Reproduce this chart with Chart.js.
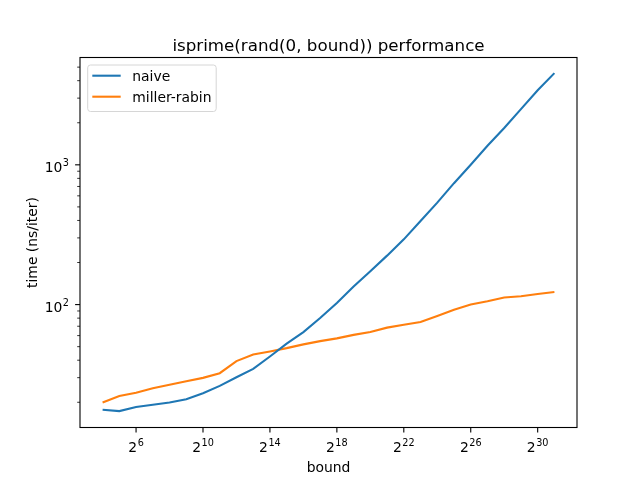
<!DOCTYPE html>
<html lang="en">
<head>
    <meta charset="UTF-8">
    <title>isprime(rand(0, bound)) performance</title>
    <style>
        html, body { margin: 0; padding: 0; background: #fff; }
        #perfChart { display: block; }
    </style>
</head>
<body>
    <canvas id="perfChart" width="640" height="480"></canvas>

    <script src="https://cdn.jsdelivr.net/npm/chart.js"></script>
    <script>
        // bound = 2^exponent
        const exponents = [4, 5, 6, 7, 8, 9, 10, 11, 12, 13, 14, 15, 16, 17,
                           18, 19, 20, 21, 22, 23, 24, 25, 26, 27, 28, 29, 30, 31];

        // time in ns/iter
        const naive = [17.7, 17.3, 18.5, 19.2, 19.9, 21.0, 23.2, 26.2, 30.2, 34.7, 42.5, 52.5, 63.6, 80.1,
                       102.7, 134.7, 173.4, 224, 293, 396, 536, 739, 1000, 1368, 1833, 2502, 3413, 4530];
        const millerRabin = [19.9, 22.2, 23.4, 25.2, 26.7, 28.3, 29.9, 32.3, 39.4, 44.0, 46.2, 48.8, 51.9, 54.8,
                             57.3, 60.7, 63.6, 68.4, 71.8, 75.0, 82.8, 92.0, 100, 105.6, 112.3, 114.7, 119.1, 123.1];

        const seriesNames = ['naive', 'miller-rabin'];
        const seriesColors = ['#1f77b4', '#ff7f0e'];

        // tick positions
        const xTickExps = [6, 10, 14, 18, 22, 26, 30];
        const yMajorTicks = [100, 1000];
        const yMinorTicks = [20, 30, 40, 50, 60, 70, 80, 90,
                             200, 300, 400, 500, 600, 700, 800, 900,
                             2000, 3000, 4000, 5000];

        const FONT = '"DejaVu Sans", sans-serif';

        // draw "base^exp" label with a raised smaller exponent
        function drawPower(ctx, base, exp, x, baseY, align) {
            ctx.font = '13.9px ' + FONT;
            const wb = ctx.measureText(base).width;
            ctx.font = '9.7px ' + FONT;
            const we = ctx.measureText(exp).width;
            const total = wb + we + 0.5;
            let left = x;
            if (align === 'center') left = x - total / 2;
            else if (align === 'right') left = x - total;
            ctx.textAlign = 'left';
            ctx.textBaseline = 'alphabetic';
            ctx.font = '13.9px ' + FONT;
            ctx.fillText(base, left, baseY);
            ctx.font = '9.7px ' + FONT;
            ctx.fillText(exp, left + wb + 0.5, baseY - 5.8);
        }

        // axes frame, ticks, labels, title and legend in matplotlib style
        const mplDecor = {
            id: 'mplDecor',
            afterDraw(chart) {
                const ctx = chart.ctx;
                const area = chart.chartArea;
                const xs = chart.scales.x;
                const ys = chart.scales.y;
                ctx.save();
                ctx.fillStyle = '#000';
                ctx.strokeStyle = '#000';

                // spines
                ctx.lineWidth = 1.1;
                ctx.strokeRect(area.left, area.top, area.right - area.left, area.bottom - area.top);

                // x ticks
                xTickExps.forEach(e => {
                    const px = xs.getPixelForValue(e);
                    ctx.beginPath();
                    ctx.moveTo(px, area.bottom);
                    ctx.lineTo(px, area.bottom + 4.9);
                    ctx.stroke();
                    drawPower(ctx, '2', String(e), px, area.bottom + 24.5, 'center');
                });

                // y ticks
                yMinorTicks.forEach(v => {
                    const py = ys.getPixelForValue(v);
                    ctx.beginPath();
                    ctx.lineWidth = 0.8;
                    ctx.moveTo(area.left - 2.8, py);
                    ctx.lineTo(area.left, py);
                    ctx.stroke();
                });
                yMajorTicks.forEach(v => {
                    const py = ys.getPixelForValue(v);
                    ctx.beginPath();
                    ctx.lineWidth = 1.1;
                    ctx.moveTo(area.left - 4.9, py);
                    ctx.lineTo(area.left, py);
                    ctx.stroke();
                    drawPower(ctx, '10', String(Math.round(Math.log10(v))), area.left - 11, py + 7.2, 'right');
                });

                // title
                ctx.font = '16.7px ' + FONT;
                ctx.textAlign = 'center';
                ctx.textBaseline = 'alphabetic';
                ctx.fillText('isprime(rand(0, bound)) performance', (area.left + area.right) / 2, 51);

                // axis labels
                ctx.font = '13.9px ' + FONT;
                ctx.fillText('bound', (area.left + area.right) / 2, 472);
                ctx.save();
                ctx.translate(36.5, (area.top + area.bottom) / 2);
                ctx.rotate(-Math.PI / 2);
                ctx.fillText('time (ns/iter)', 0, 0);
                ctx.restore();

                // legend
                const lx = area.left + 7.7, ly = area.top + 7.5, lw = 128.5, lh = 46.5, r = 2.8;
                ctx.beginPath();
                ctx.moveTo(lx + r, ly);
                ctx.arcTo(lx + lw, ly, lx + lw, ly + lh, r);
                ctx.arcTo(lx + lw, ly + lh, lx, ly + lh, r);
                ctx.arcTo(lx, ly + lh, lx, ly, r);
                ctx.arcTo(lx, ly, lx + lw, ly, r);
                ctx.closePath();
                ctx.fillStyle = 'rgba(255,255,255,0.8)';
                ctx.fill();
                ctx.strokeStyle = '#d6d6d6';
                ctx.lineWidth = 1;
                ctx.stroke();

                chart.data.datasets.forEach((ds, i) => {
                    const y = ly + 10.7 + i * 21;
                    ctx.beginPath();
                    ctx.strokeStyle = ds.borderColor;
                    ctx.lineWidth = 2.1;
                    ctx.moveTo(lx + 4.6, y);
                    ctx.lineTo(lx + 33, y);
                    ctx.stroke();
                    ctx.fillStyle = '#000';
                    ctx.font = '13.9px ' + FONT;
                    ctx.textAlign = 'left';
                    ctx.fillText(ds.label, lx + 44.6, y + 5);
                });

                ctx.restore();
            }
        };

        const datasets = [naive, millerRabin].map((vals, i) => ({
            label: seriesNames[i],
            data: exponents.map((e, j) => ({ x: e, y: vals[j] })),
            borderColor: seriesColors[i],
            backgroundColor: seriesColors[i],
            borderWidth: 2.1,
            pointRadius: 0,
            tension: 0,
            fill: false
        }));

        new Chart(document.getElementById('perfChart').getContext('2d'), {
            type: 'line',
            data: { datasets: datasets },
            options: {
                responsive: false,
                animation: false,
                devicePixelRatio: 1,
                layout: { padding: { left: 0, top: 57.5, right: 63, bottom: 0 } },
                plugins: {
                    legend: { display: false },
                    title: { display: false },
                    tooltip: { enabled: false }
                },
                scales: {
                    x: {
                        type: 'linear',
                        min: 2.65,
                        max: 32.35,
                        grid: { display: false },
                        border: { display: false },
                        ticks: { display: false },
                        afterFit(scale) { scale.height = 52.5; }
                    },
                    y: {
                        type: 'logarithmic',
                        min: 13.2,
                        max: 5860,
                        grid: { display: false },
                        border: { display: false },
                        ticks: { display: false },
                        afterFit(scale) { scale.width = 80; }
                    }
                }
            },
            plugins: [mplDecor]
        });
    </script>
</body>
</html>
